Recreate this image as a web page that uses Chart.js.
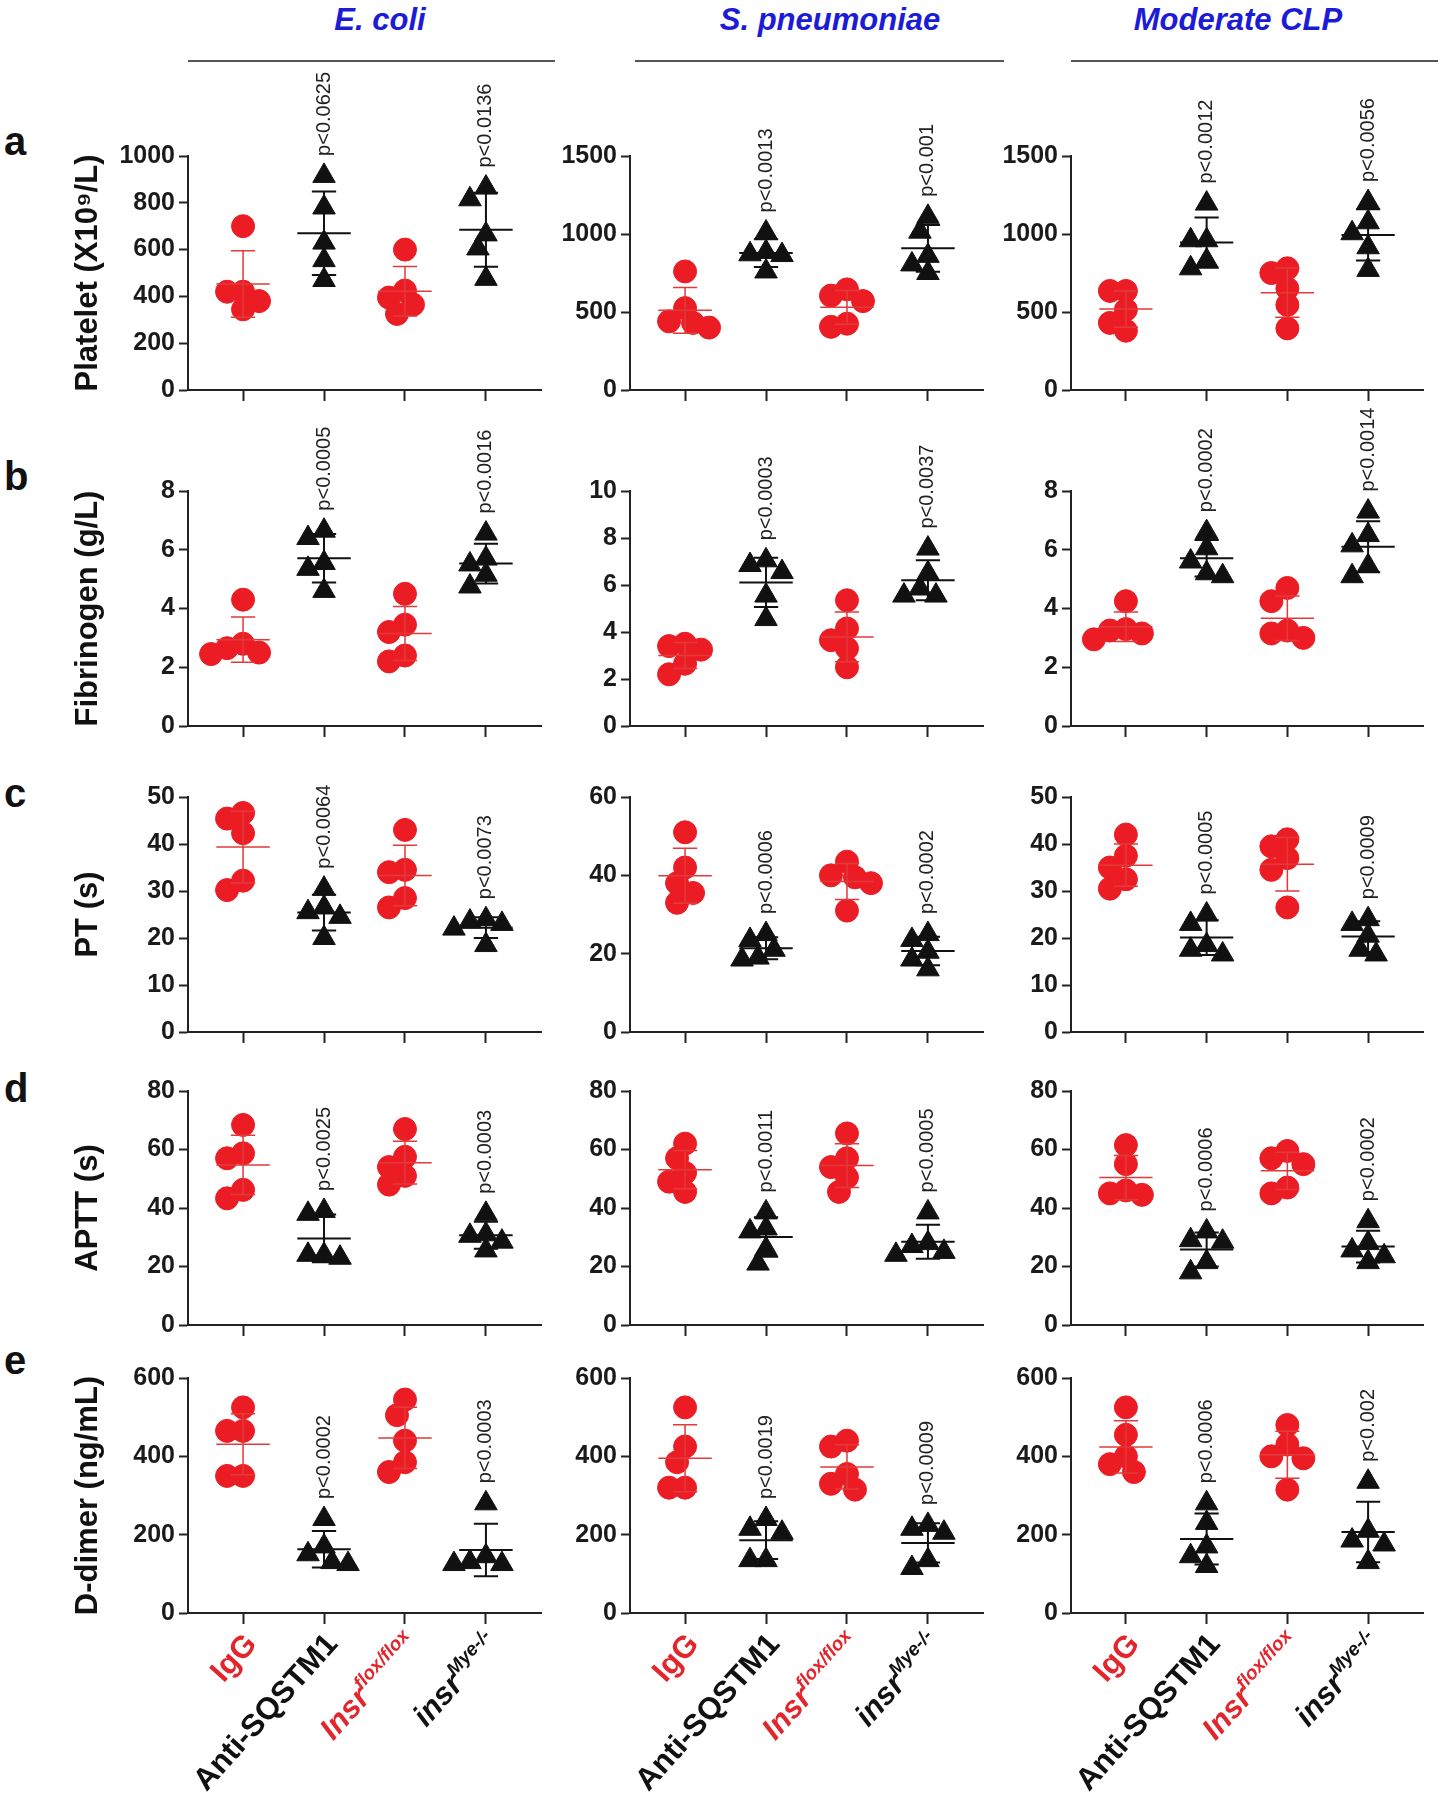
<!DOCTYPE html>
<html>
<head>
<meta charset="utf-8">
<script src="https://cdn.jsdelivr.net/npm/chart.js@4.4.0/dist/chart.umd.min.js"></script>
<style>
  body { margin: 0; background: #fff; width: 1438px; height: 1800px; overflow: hidden; position: relative; }
  canvas { position: absolute; }
  .col-title { position: absolute; top: 2px; line-height: 31px; font: italic bold 31px "Liberation Sans", Arial, sans-serif; color: #1c1cd6; transform: translateX(-50%); white-space: nowrap; }
  .rule { position: absolute; top: 60px; height: 2px; background: #555; }
  .letter { position: absolute; left: 4px; line-height: 40px; font: bold 40px "Liberation Sans", Arial, sans-serif; color: #111; }
</style>
</head>
<body>
<div class="col-title" style="left:380px">E. coli</div>
<div class="col-title" style="left:830px">S. pneumoniae</div>
<div class="col-title" style="left:1238px">Moderate CLP</div>
<div class="rule" style="left:188px;width:367px"></div>
<div class="rule" style="left:635px;width:369px"></div>
<div class="rule" style="left:1071px;width:367px"></div>
<div class="letter" style="top:119px">a</div>
<div class="letter" style="top:454px">b</div>
<div class="letter" style="top:771px">c</div>
<div class="letter" style="top:1066px">d</div>
<div class="letter" style="top:1338px">e</div>

<script>
const FONT = '"Liberation Sans", Arial, Helvetica, sans-serif';

const groups = ['IgG', 'Anti-SQSTM1', 'Insr', 'insr'];
const groupSup = ['', '', 'flox/flox', 'Mye-/-'];
const models = ['E. coli', 'S. pneumoniae', 'Moderate CLP'];

// platelet (X10^9/L), 5 mice per group: IgG, Anti-SQSTM1, Insr flox/flox, insr Mye-/-
const plateletEcoli = [[700, 420, 420, 345, 380], [915, 780, 630, 555, 470], [600, 425, 395, 365, 325], [865, 815, 665, 605, 475]];
const plateletSpn = [[760, 525, 440, 430, 400], [1010, 885, 870, 865, 760], [645, 605, 570, 425, 405], [1110, 1015, 860, 805, 750]];
const plateletClp = [[635, 635, 515, 430, 380], [1195, 960, 960, 830, 780], [780, 750, 650, 545, 395], [1205, 1075, 1005, 915, 770]];

// fibrinogen (g/L)
const fibEcoli = [[4.3, 2.8, 2.65, 2.5, 2.45], [6.65, 6.4, 5.55, 5.35, 4.6], [4.5, 3.45, 3.2, 2.4, 2.2], [6.55, 5.7, 5.5, 5.15, 4.75]];
const fibSpn = [[3.5, 3.4, 3.25, 2.65, 2.2], [7.05, 6.85, 6.55, 5.55, 4.55], [5.35, 4.15, 3.65, 3.3, 2.5], [7.55, 6.5, 5.85, 5.55, 5.55]];
const fibClp = [[4.25, 3.3, 3.25, 3.15, 2.95], [6.6, 6.05, 5.6, 5.2, 5.1], [4.7, 4.25, 3.25, 3.15, 3.0], [7.3, 6.5, 6.15, 5.45, 5.1]];

// PT (s)
const ptEcoli = [[46.6, 45.4, 42.3, 32.2, 30.2], [30.5, 26.5, 25.5, 24.5, 20], [43, 34.5, 34, 28.5, 26.5], [24, 23.5, 23, 22, 18.5]];
const ptSpn = [[51, 42, 38, 35.5, 33], [25, 23.5, 21, 19, 18.5], [43.5, 40, 39.5, 38, 31], [25, 23.5, 20.5, 18.5, 16]];
const ptClp = [[42, 37.5, 35, 32.5, 30.5], [25, 23, 18.5, 17.5, 16.5], [41, 39.5, 37, 34.5, 26.5], [24, 23, 20.5, 17.5, 16.5]];

// APTT (s)
const apttEcoli = [[68.4, 58.7, 57, 46.2, 43.3], [39, 38, 24, 23, 24], [67, 57.5, 54, 51, 48], [38, 31, 30.5, 28.5, 25.5]];
const apttSpn = [[62, 57, 52, 49, 45.5], [38.5, 33, 32, 26, 21], [65.5, 57, 54, 50.5, 45.5], [38.5, 28, 27, 25, 24]];
const apttClp = [[61.5, 55, 46, 45, 44.5], [32, 29, 28.5, 21.5, 18], [59.5, 57, 55, 47, 45], [35.5, 28, 25.5, 23.5, 21.5]];

// D-dimer (ng/mL)
const ddEcoli = [[525, 465, 465, 350, 350], [240, 170, 150, 125, 130], [545, 505, 440, 385, 360], [280, 145, 130, 125, 125]];
const ddSpn = [[525, 425, 385, 320, 320], [240, 215, 205, 135, 135], [440, 425, 355, 330, 315], [225, 215, 205, 135, 115]];
const ddClp = [[525, 455, 400, 380, 360], [280, 230, 170, 145, 120], [480, 430, 400, 395, 315], [335, 210, 185, 175, 130]];

// p values printed over Anti-SQSTM1 and insr Mye-/- for each model
const pPlatelet = [['p<0.0625', 'p<0.0136'], ['p<0.0013', 'p<0.001'], ['p<0.0012', 'p<0.0056']];
const pFib = [['p<0.0005', 'p<0.0016'], ['p<0.0003', 'p<0.0037'], ['p<0.0002', 'p<0.0014']];
const pPt = [['p<0.0064', 'p<0.0073'], ['p<0.0006', 'p<0.0002'], ['p<0.0005', 'p<0.0009']];
const pAptt = [['p<0.0025', 'p<0.0003'], ['p<0.0011', 'p<0.0005'], ['p<0.0006', 'p<0.0002']];
const pDd = [['p<0.0002', 'p<0.0003'], ['p<0.0019', 'p<0.0009'], ['p<0.0006', 'p<0.002']];

// y axis ranges
const plateletMax = [1000, 1500, 1500], plateletStep = [200, 500, 500];
const fibMax = [8, 10, 8], fibStep = [2, 2, 2];
const ptMax = [50, 60, 50], ptStep = [10, 20, 10];
const apttMax = [80, 80, 80], apttStep = [20, 20, 20];
const ddMax = [600, 600, 600], ddStep = [200, 200, 200];

const rows = [
  { title: 'Platelet (X10⁹/L)', sets: [plateletEcoli, plateletSpn, plateletClp], p: pPlatelet, max: plateletMax, step: plateletStep },
  { title: 'Fibrinogen (g/L)', sets: [fibEcoli, fibSpn, fibClp], p: pFib, max: fibMax, step: fibStep },
  { title: 'PT (s)', sets: [ptEcoli, ptSpn, ptClp], p: pPt, max: ptMax, step: ptStep },
  { title: 'APTT (s)', sets: [apttEcoli, apttSpn, apttClp], p: pAptt, max: apttMax, step: apttStep },
  { title: 'D-dimer (ng/mL)', sets: [ddEcoli, ddSpn, ddClp], p: pDd, max: ddMax, step: ddStep },
];

// page layout (plot area edges)
const colPlot = [[188, 541], [630, 983], [1071, 1423]];
const rowPlot = [[156, 390], [491, 726], [797, 1032], [1091, 1325], [1378, 1613]];
const RED = '#ec1c24', BLACK = '#111', AXIS = '#222';

Chart.defaults.font.family = FONT;

const mean = a => a.reduce((s, v) => s + v, 0) / a.length;
const sd = a => { const m = mean(a); return Math.sqrt(a.reduce((s, v) => s + (v - m) ** 2, 0) / (a.length - 1)); };

// GraphPad style spread of points so they do not pile on each other
function swarm(vals, yScale, minDist, step) {
  const order = vals.map((v, i) => i).sort((a, b) => vals[b] - vals[a]);
  const placed = [], off = [];
  for (const i of order) {
    const y = yScale.getPixelForValue(vals[i]);
    let dx = null;
    for (let k = 0; dx === null; k++) {
      const cands = k === 0 ? [0] : [-k * step, k * step];
      const ok = cands.find(c => placed.every(p => Math.hypot(p.x - c, p.y - y) >= minDist));
      if (ok !== undefined) dx = ok;
    }
    placed.push({ x: dx, y });
    off[i] = dx;
  }
  return off;
}

function makePanel(r, c) {
  const row = rows[r];
  const vals = row.sets[c];
  const [pl, pr] = colPlot[c];
  const [pt, pb] = rowPlot[r];
  const axisW = c === 0 ? pl : 110;
  const padTop = 110, xAxisH = 14, padRight = 14;
  const last = r === rows.length - 1;
  const padBottom = last ? 1800 - pb - xAxisH : 8;

  const cv = document.createElement('canvas');
  const w = pr + padRight - (pl - axisW);
  const h = padTop + (pb - pt) + xAxisH + padBottom;
  cv.width = w; cv.height = h;
  cv.style.left = (pl - axisW) + 'px';
  cv.style.top = (pt - padTop) + 'px';
  cv.style.width = w + 'px';
  cv.style.height = h + 'px';
  document.body.appendChild(cv);

  const datasets = [];
  vals.forEach((v, g) => {
    const tri = g % 2 === 1;
    const col = tri ? BLACK : RED;
    datasets.push({
      type: 'scatter',
      label: groups[g],
      data: v.map(y => ({ x: g + 1, y })),
      pointStyle: tri ? 'triangle' : 'circle',
      pointRadius: tri ? 13 : 11.5,
      backgroundColor: col,
      borderColor: col,
      borderWidth: 1,
      order: 2,
      clip: false,
    });
    const m = mean(v), s = sd(v), x0 = g + 1;
    datasets.push({
      type: 'line',
      label: groups[g] + ' mean±SD',
      data: [
        { x: x0 - 0.33, y: m }, { x: x0 + 0.33, y: m }, { x: x0, y: null },
        { x: x0, y: m - s }, { x: x0, y: m + s }, { x: x0, y: null },
        { x: x0 - 0.15, y: m + s }, { x: x0 + 0.15, y: m + s }, { x: x0, y: null },
        { x: x0 - 0.15, y: m - s }, { x: x0 + 0.15, y: m - s },
      ],
      borderColor: tri ? BLACK : '#e23a3a',
      borderWidth: tri ? 2 : 1.5,
      pointRadius: 0,
      spanGaps: false,
      tension: 0,
      order: 1,
      clip: false,
    });
  });

  const pValues = {
    id: 'pValues',
    afterDatasetsDraw(chart) {
      const { ctx, scales: { x, y } } = chart;
      ctx.save();
      ctx.font = '20px ' + FONT;
      ctx.fillStyle = '#222';
      ctx.textAlign = 'left';
      ctx.textBaseline = 'middle';
      [1, 3].forEach((g, k) => {
        const v = vals[g];
        const topPix = Math.min(y.getPixelForValue(Math.max(...v)) - 13, y.getPixelForValue(mean(v) + sd(v)));
        ctx.save();
        ctx.translate(x.getPixelForValue(g + 1), topPix - 7);
        ctx.rotate(-Math.PI / 2);
        ctx.fillText(row.p[c][k], 0, 0);
        ctx.restore();
      });
      ctx.restore();
    }
  };

  const groupLabels = {
    id: 'groupLabels',
    afterDraw(chart) {
      if (!last) return;
      const { ctx, scales: { x }, chartArea } = chart;
      groups.forEach((name, g) => {
        const col = g % 2 === 1 ? BLACK : '#e3262d';
        const italic = g >= 2 ? 'italic ' : '';
        const mainFont = italic + 'bold 31px ' + FONT;
        const supFont = italic + 'bold 19px ' + FONT;
        ctx.save();
        ctx.font = mainFont;
        const wMain = ctx.measureText(name).width;
        ctx.font = supFont;
        const wSup = groupSup[g] ? ctx.measureText(groupSup[g]).width : 0;
        ctx.translate(x.getPixelForValue(g + 1) + 15, chartArea.bottom + 32);
        ctx.rotate(-48 * Math.PI / 180);
        ctx.fillStyle = col;
        ctx.textAlign = 'left';
        ctx.textBaseline = 'alphabetic';
        ctx.font = mainFont;
        ctx.fillText(name, -(wMain + wSup), 0);
        if (groupSup[g]) {
          ctx.font = supFont;
          ctx.fillText(groupSup[g], -wSup, -13);
        }
        ctx.restore();
      });
    }
  };

  const chart = new Chart(cv, {
    type: 'scatter',
    data: { datasets },
    options: {
      responsive: false,
      animation: false,
      events: [],
      layout: { padding: { top: padTop, right: padRight, bottom: padBottom, left: 0 } },
      plugins: { legend: { display: false }, tooltip: { enabled: false } },
      scales: {
        x: {
          type: 'linear',
          min: 0.32,
          max: 4.68,
          afterBuildTicks: s => { s.ticks = groups.map((_, i) => ({ value: i + 1 })); },
          afterFit: s => { s.height = xAxisH; },
          ticks: { display: false },
          grid: { drawOnChartArea: false, drawTicks: true, tickLength: 11, tickWidth: 2, tickColor: AXIS },
          border: { display: true, color: AXIS, width: 2 },
        },
        y: {
          min: 0,
          max: row.max[c],
          afterFit: s => { s.width = axisW; },
          ticks: {
            stepSize: row.step[c],
            font: { size: 25, weight: 'bold' },
            color: '#1a1a1a',
            padding: 4,
            callback: v => String(v),
          },
          grid: { drawOnChartArea: false, drawTicks: true, tickLength: 9, tickWidth: 2, tickColor: AXIS },
          border: { display: true, color: AXIS, width: 2 },
          title: {
            display: c === 0,
            text: row.title,
            color: '#111',
            font: { size: 31, weight: 'bold' },
            padding: { top: 70, bottom: 0 },
          },
        },
      },
    },
    plugins: [pValues, groupLabels],
  });

  // spread points sideways using the chart's own pixel scales
  const xs = chart.scales.x, ys = chart.scales.y;
  vals.forEach((v, g) => {
    const off = swarm(v, ys, 16, 8);
    const cx = xs.getPixelForValue(g + 1);
    chart.data.datasets[g * 2].data = v.map((y, i) => ({ x: xs.getValueForPixel(cx + off[i]), y }));
  });
  chart.update('none');
}

rows.forEach((row, r) => models.forEach((m, c) => makePanel(r, c)));
</script>
</body>
</html>
